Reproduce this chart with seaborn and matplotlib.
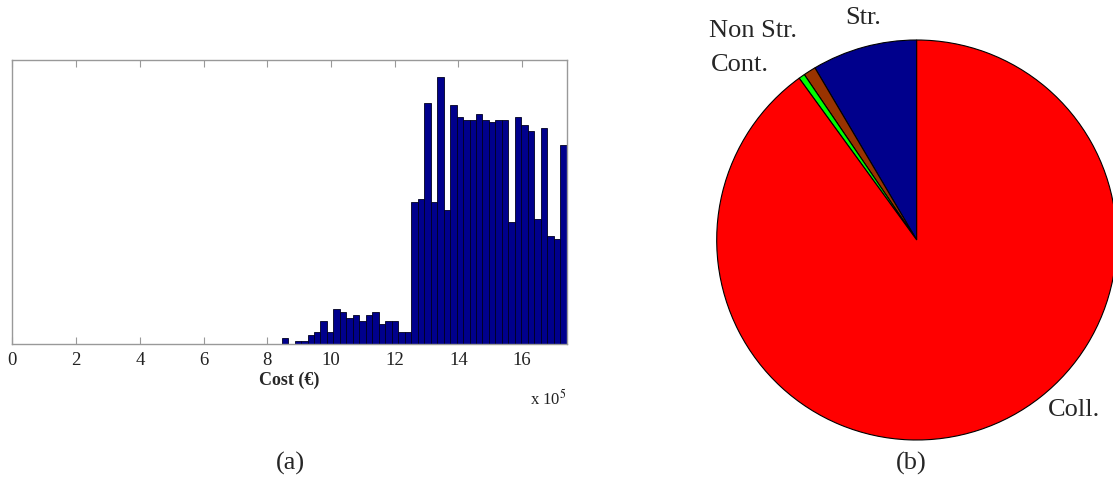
import numpy as np
import pandas as pd
import matplotlib
matplotlib.use("Agg")
import matplotlib.pyplot as plt
import seaborn as sns

# ---------------- data ----------------
# Histogram of cost (x 10^5 EUR): bin range and counts per bin
cost_min = 8.45
cost_max = 17.40
counts = [2, 0, 1, 1, 3, 4, 8, 4, 12, 11, 9, 10, 8, 10, 11, 7, 8, 8, 4, 4,
          50, 51, 85, 50, 94, 47, 84, 80, 79, 79, 81, 79, 78, 79, 79, 43,
          80, 77, 75, 44, 76, 38, 37, 70]
xticks = [0, 2, 4, 6, 8, 10, 12, 14, 16]

# Pie shares (%)
pie_labels = ["Str.", "Non Str.", "Cont.", "Coll."]
pie_values = [8.5, 1.0, 0.5, 90.0]
pie_colors = ["#00008C", "#993300", "#00FF00", "#FF0000"]

# ---------------- style ----------------
sns.set_theme(style="white")
plt.rcParams["font.family"] = ["Liberation Serif", "DejaVu Serif"]
plt.rcParams["mathtext.fontset"] = "stix"

W, H = 1113, 480
fig = plt.figure(figsize=(W / 100, H / 100), dpi=100)

# ---------------- (a) histogram ----------------
axL, axR, axT, axB = 12.4, 566.7, 60, 343.5
ax = fig.add_axes([axL / W, 1 - axB / H, (axR - axL) / W, (axB - axT) / H])
n = len(counts)
width = (cost_max - cost_min) / n
centers = cost_min + width * (np.arange(n) + 0.5)
df = pd.DataFrame({"cost": centers, "count": np.asarray(counts, dtype=float)})
sns.histplot(data=df, x="cost", weights="count", bins=n,
             binrange=(cost_min, cost_max), ax=ax,
             color="#00008C", edgecolor="#000020", linewidth=0.6, alpha=1.0)
ax.set_xlim(0, 17.4)
ax.set_ylim(0, 100)
ax.set_xticks(xticks)
ax.set_xticklabels([str(t) for t in xticks], fontsize=13.5)
ax.set_yticks([])
ax.set_ylabel("")
ax.set_xlabel("Cost (€)", fontsize=13, fontweight="bold", labelpad=2)
ax.tick_params(axis="x", direction="in", top=True, bottom=True, length=5,
               width=0.8, color="#999999", pad=6, labelcolor="#222222")
for s in ax.spines.values():
    s.set_color("#999999")
    s.set_linewidth(1.0)
ax.text(1.0, -0.195, "x 10$^{5}$", transform=ax.transAxes, ha="right",
        va="center", fontsize=12, color="#222222")
fig.text(290 / W, 1 - 463 / H, "(a)", ha="center", va="center", fontsize=19)

# ---------------- (b) pie ----------------
cx, cy, r = 916.7, 240, 200
axp = fig.add_axes([(cx - r) / W, 1 - (cy + r) / H, 2 * r / W, 2 * r / H])
wedges, texts = axp.pie(pie_values, labels=pie_labels, colors=pie_colors,
                        startangle=90,
                        wedgeprops=dict(edgecolor="black", linewidth=0.8),
                        textprops=dict(fontsize=19))
label_pos = {"Str.": (-0.267, 1.109), "Non Str.": (-0.817, 1.047),
             "Cont.": (-0.883, 0.875), "Coll.": (0.785, -0.85)}
for t in texts:
    t.set_position(label_pos[t.get_text()])
    t.set_ha("center")
    t.set_va("center")
    t.set_clip_on(False)
axp.set_xlim(-1, 1)
axp.set_ylim(-1, 1)
axp.set_aspect("equal")
axp.axis("off")
fig.text(911.7 / W, 1 - 463 / H, "(b)", ha="center", va="center", fontsize=19)

fig.savefig("out.png", dpi=100)
